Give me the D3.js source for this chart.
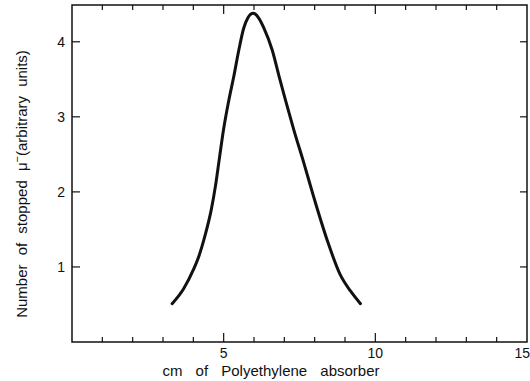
<!DOCTYPE html>
<html>
<head>
<meta charset="utf-8">
<script src="https://cdn.jsdelivr.net/npm/d3@7"></script>
<style>
  body { margin: 0; background: #fff; }
  svg { display: block; }
  text { font-family: "Liberation Sans", "DejaVu Sans", sans-serif; fill: #111; }
</style>
</head>
<body>
<svg id="chart" width="530" height="381"></svg>
<script>
// absorber thickness (cm) and stopped muon count (arbitrary units)
const thickness = [3.30, 3.68, 4.01, 4.18, 4.40, 4.59, 4.73, 4.86, 5.00, 5.17, 5.33, 5.50, 5.66, 5.80,
                   5.97, 6.15, 6.32, 6.60, 6.82, 7.04, 7.31, 7.64, 7.97, 8.41, 8.85, 9.18, 9.51];
const stopped = [0.51, 0.71, 0.97, 1.14, 1.44, 1.76, 2.08, 2.45, 2.84, 3.22, 3.53, 3.89, 4.18, 4.32,
                 4.38, 4.32, 4.19, 3.89, 3.55, 3.22, 2.83, 2.39, 1.93, 1.36, 0.89, 0.68, 0.51];
const xTickLabels = [5, 10, 15];
const yTickLabels = [1, 2, 3, 4];

let svg = d3.select('#chart');
let mLeft = 72, mRight = 527, mTop = 5, mBottom = 342;

let x = d3.scaleLinear().domain([0, 15]).range([mLeft, mRight]);
let y = d3.scaleLinear().domain([0, 4.49]).range([mBottom, mTop]);

let g = svg.append('g');

// frame
g.append('rect')
    .attr('x', mLeft).attr('y', mTop)
    .attr('width', mRight - mLeft).attr('height', mBottom - mTop)
    .attr('fill', 'none').attr('stroke', '#111').attr('stroke-width', 1.5);

// x ticks, every 1 cm, long at multiples of 5
let xTicks = d3.range(1, 15);
let tickLen = (d) => d % 5 === 0 ? 9 : 5;

g.append('g').selectAll('line').data(xTicks).enter().append('line')
    .attr('x1', (d) => x(d)).attr('x2', (d) => x(d))
    .attr('y1', mBottom).attr('y2', (d) => mBottom - tickLen(d))
    .attr('stroke', '#111').attr('stroke-width', 1.2);

g.append('g').selectAll('line').data(xTicks).enter().append('line')
    .attr('x1', (d) => x(d)).attr('x2', (d) => x(d))
    .attr('y1', mTop).attr('y2', (d) => mTop + tickLen(d))
    .attr('stroke', '#111').attr('stroke-width', 1.2);

// y ticks both sides
g.append('g').selectAll('line').data(yTickLabels).enter().append('line')
    .attr('x1', mLeft).attr('x2', mLeft + 8)
    .attr('y1', (d) => y(d)).attr('y2', (d) => y(d))
    .attr('stroke', '#111').attr('stroke-width', 1.2);

g.append('g').selectAll('line').data(yTickLabels).enter().append('line')
    .attr('x1', mRight).attr('x2', mRight - 7)
    .attr('y1', (d) => y(d)).attr('y2', (d) => y(d))
    .attr('stroke', '#111').attr('stroke-width', 1.2);

// tick labels (last one pushed against the right edge, as in the scan)
g.append('g').selectAll('text').data(xTickLabels).enter().append('text')
    .attr('x', (d) => d === 15 ? 530 : x(d)).attr('y', 358)
    .attr('text-anchor', (d) => d === 15 ? 'end' : 'middle')
    .style('font-size', '14px')
    .text((d) => d);

g.append('g').selectAll('text').data(yTickLabels).enter().append('text')
    .attr('x', 65).attr('y', (d) => y(d) + 5)
    .attr('text-anchor', 'end')
    .style('font-size', '14px')
    .text((d) => d);

// axis titles
svg.append('text')
    .attr('x', 271).attr('y', 376)
    .attr('text-anchor', 'middle')
    .style('font-size', '15px')
    .style('word-spacing', '9px')
    .text('cm of Polyethylene absorber');

let yt = svg.append('text')
    .attr('transform', 'translate(27,184) rotate(-90)')
    .attr('text-anchor', 'middle')
    .style('font-size', '15px')
    .style('word-spacing', '5px');
yt.append('tspan').text('Number of stopped μ');
yt.append('tspan').attr('dy', -6).style('font-size', '11px').text('−');
yt.append('tspan').attr('dy', 6).text('(arbitrary units)');

// curve
let pts = thickness.map((d, i) => [d, stopped[i]]);
let line = d3.line()
    .x((d) => x(d[0]))
    .y((d) => y(d[1]))
    .curve(d3.curveMonotoneX);

g.append('path')
    .datum(pts)
    .attr('d', line)
    .attr('fill', 'none')
    .attr('stroke', '#111')
    .attr('stroke-width', 3)
    .attr('stroke-linecap', 'round');
</script>
</body>
</html>
